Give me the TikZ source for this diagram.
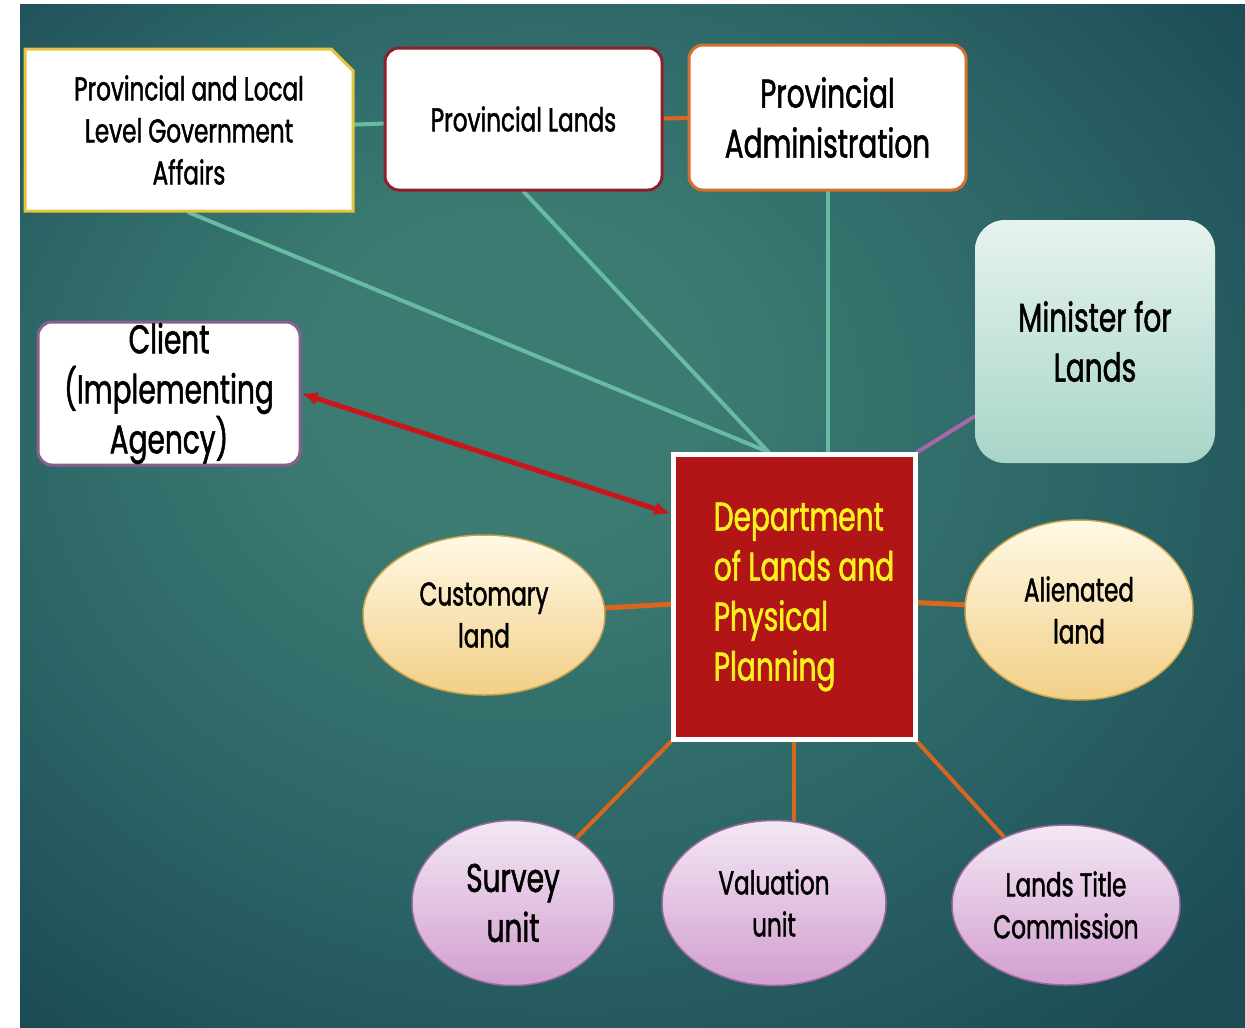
\documentclass[tikz,border=0pt]{standalone}
\usepackage{fontspec}
\setmainfont{Poppins}[FakeStretch=0.7, FakeBold=1.3]
\usetikzlibrary{shapes.geometric,shapes.misc,arrows.meta,backgrounds}

\definecolor{bgdark}{HTML}{1C4A55}
\definecolor{bgmid}{HTML}{2C6667}
\definecolor{bglight}{HTML}{3C7B72}
\definecolor{tealline}{HTML}{66BBA2}
\definecolor{orangeline}{HTML}{D8661F}
\definecolor{redline}{HTML}{C8161B}
\definecolor{purpleline}{HTML}{A767A8}
\definecolor{deptred}{HTML}{B11515}
\definecolor{deptyellow}{HTML}{F8F31E}
\definecolor{goldedge}{HTML}{E6C43E}
\definecolor{maroonedge}{HTML}{8E1F2E}
\definecolor{orangeedge}{HTML}{D4702E}
\definecolor{plumedge}{HTML}{8C5E8E}
\definecolor{mintlight}{HTML}{E6F3EF}
\definecolor{mintdark}{HTML}{A8D5C8}
\definecolor{sandlight}{HTML}{FFF9E6}
\definecolor{sanddark}{HTML}{F2CF86}
\definecolor{sandedge}{HTML}{C9A24A}
\definecolor{lilaclight}{HTML}{F3E8F3}
\definecolor{lilacdark}{HTML}{D29ED0}
\definecolor{lilacedge}{HTML}{9C6A9C}

\pgfdeclareradialshading{slideglow}{\pgfpoint{-6bp}{8bp}}{%
  color(0bp)=(bglight); color(8bp)=(bglight); color(22bp)=(bgmid);
  color(36bp)=(bgdark); color(50bp)=(bgdark)}

\newcommand{\smalltxt}{\fontsize{33}{42}\selectfont}
\newcommand{\bigtxt}{\fontsize{40}{50}\selectfont}
\newcommand{\indentline}{\hspace*{20pt}}

\tikzset{
  box/.style={rectangle, rounded corners=14pt, fill=white, line width=3pt,
    align=center, inner sep=0pt},
  blob/.style={ellipse, inner sep=0pt, align=center, line width=1.5pt},
  sandblob/.style={blob, draw=sandedge, top color=sandlight, bottom color=sanddark},
  lilacblob/.style={blob, draw=lilacedge, top color=lilaclight, bottom color=lilacdark},
  link/.style={line width=4pt, line cap=round},
}

\begin{document}
\begin{tikzpicture}[x=1pt,y=-1pt]
\useasboundingbox (0,0) rectangle (1245,1028);

% top row
\node[chamfered rectangle, chamfered rectangle corners=north east,
  chamfered rectangle xsep=18pt, fill=white, draw=goldedge, line width=3pt,
  minimum width=328pt, minimum height=162pt, inner sep=0pt, align=center,
  font=\smalltxt] (pllga) at (189,130)
  {Provincial and Local\\Level Government\\Affairs};
\node[box, draw=maroonedge, minimum width=277pt, minimum height=142pt,
  font=\smalltxt] (plands) at (523.5,119) {Provincial Lands};
\node[box, draw=orangeedge, minimum width=277pt, minimum height=145pt,
  font=\bigtxt] (padmin) at (827.5,117.5) {Provincial\\Administration};

% side boxes
\node[rectangle, rounded corners=30pt, top color=mintlight, bottom color=mintdark,
  minimum width=240pt, minimum height=243pt, align=center, inner sep=0pt,
  font=\bigtxt] (minister) at (1095,341.5) {Minister for\\Lands};
\node[box, draw=plumedge, minimum width=262pt, minimum height=143pt,
  font=\bigtxt] (client) at (169,393.5) {Client\\(Implementing\\Agency)};

% centre
\node[rectangle, fill=deptred, draw=white, line width=5pt,
  minimum width=242pt, minimum height=285pt, align=left,
  text=deptyellow, font=\bigtxt] (dept) at (794,597)
  {\indentline Department\\\indentline of Lands and\\\indentline Physical\\\indentline Planning};

% land types
\node[sandblob, minimum width=242pt, minimum height=160pt,
  font=\smalltxt] (customary) at (484,615) {Customary\\land};
\node[sandblob, minimum width=228pt, minimum height=180pt,
  font=\smalltxt] (alienated) at (1079,610) {Alienated\\land};

% units
\node[lilacblob, minimum width=202pt, minimum height=165pt,
  font=\bigtxt] (survey) at (513,903) {Survey\\unit};
\node[lilacblob, minimum width=224pt, minimum height=165pt,
  font=\smalltxt] (valuation) at (774,903) {Valuation\\unit};
\node[lilacblob, minimum width=228pt, minimum height=160pt,
  font=\smalltxt] (ltc) at (1066,905) {Lands Title\\Commission};

\begin{scope}[on background layer]
\fill[white] (0,0) rectangle (1245,1028);
\shade[shading=slideglow] (20,4) rectangle (1245,1028);

\draw[link, tealline] (pllga) -- (plands);
\draw[link, orangeline] (plands) -- (padmin);
\draw[link, tealline] (pllga.south) -- (dept.100);
\draw[link, tealline] (plands.south) -- (dept.100);
\draw[link, tealline] (padmin.south) -- (padmin.south |- dept.north);
\draw[link, purpleline] (dept.north east) -- (minister);

\draw[link, orangeline, line width=5pt] (customary) -- (dept);
\draw[link, orangeline, line width=5pt] (alienated) -- (dept);
\draw[link, orangeline] (survey) -- (dept.south west);
\draw[link, orangeline] (dept.south) -- (dept.south |- valuation.north);
\draw[link, orangeline] (ltc) -- (dept.south east);
\end{scope}

\draw[redline, line width=5pt, {Latex[length=16pt,width=14pt]}-{Latex[length=16pt,width=14pt]}]
  (client.east) -- (dept.146);
\end{tikzpicture}
\end{document}
